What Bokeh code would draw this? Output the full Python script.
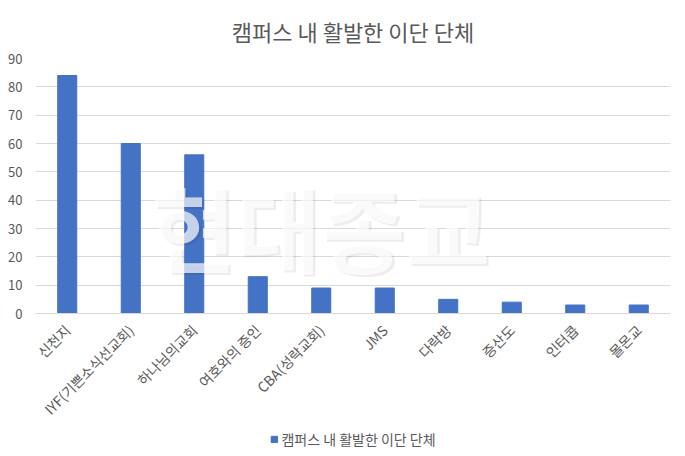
from bokeh.plotting import figure
from bokeh.models import FactorRange, Range1d, Legend, LegendItem, Label, ColumnDataSource, SingleIntervalTicker
from bokeh.layouts import column
from bokeh.embed import file_html
from bokeh.resources import INLINE
import math

title = "캠퍼스 내 활발한 이단 단체"
series_name = "캠퍼스 내 활발한 이단 단체"
categories = ["신천지", "IYF(기쁜소식선교회)", "하나님의교회", "여호와의 증인", "CBA(성락교회)",
              "JMS", "다락방", "증산도", "인터콥", "몰몬교"]
values = [84, 60, 56, 13, 9, 9, 5, 4, 3, 3]
watermark = "현대종교"

FONT = "Noto Sans CJK KR"
GREY = "#595959"
BLUE = "#4472C4"

src = ColumnDataSource(dict(cat=categories, val=values))

p = figure(frame_width=635, frame_height=255, x_range=FactorRange(*categories), y_range=Range1d(0, 90),
           output_backend="svg", toolbar_location=None,
           min_border_left=35, min_border_right=15, min_border_top=58, min_border_bottom=0)
p.outline_line_color = None

r = p.vbar(x="cat", top="val", width=0.3, source=src, fill_color=BLUE, line_color=BLUE)

p.title.text = title
p.title.align = "center"
p.title.text_font = FONT
p.title.text_font_size = "22px"
p.title.text_font_style = "normal"
p.title.text_color = GREY
p.title.standoff = 24

p.yaxis.ticker = SingleIntervalTicker(interval=10)
p.yaxis.axis_line_color = None
p.yaxis.major_tick_line_color = None
p.yaxis.minor_tick_line_color = None
p.yaxis.major_label_text_font = FONT
p.yaxis.major_label_text_font_size = "13px"
p.yaxis.major_label_text_color = GREY
p.yaxis.major_label_standoff = 7

p.xaxis.axis_line_color = "#d9d9d9"
p.xaxis.major_tick_line_color = None
p.xaxis.minor_tick_line_color = None
p.xaxis.major_label_orientation = math.pi / 4
p.xaxis.major_label_text_font = FONT
p.xaxis.major_label_text_font_size = "14px"
p.xaxis.major_label_text_color = GREY
p.xaxis.major_label_standoff = 8

p.xgrid.grid_line_color = None
p.ygrid.grid_line_color = "#d9d9d9"

# watermark
shadow = Label(x=4.53, y=30.3, text=watermark, text_align="center", text_baseline="middle",
               text_font=FONT, text_font_size="92px", text_font_style="bold",
               text_color="#000000", text_alpha=0.07)
wm = Label(x=4.49, y=31, text=watermark, text_align="center", text_baseline="middle",
           text_font=FONT, text_font_size="92px", text_font_style="bold",
           text_color="#ffffff", text_alpha=0.7)
p.add_layout(shadow)
p.add_layout(wm)

# legend strip below the chart
q = figure(width=685, height=22, x_range=Range1d(0, 1), y_range=Range1d(0, 1),
           output_backend="svg", toolbar_location=None,
           x_axis_location=None, y_axis_location=None, min_border=0)
q.outline_line_color = None
q.xgrid.grid_line_color = None
q.ygrid.grid_line_color = None
lr = q.vbar(x=[2], top=[0], width=0.3, fill_color=BLUE, line_color=BLUE)
legend = Legend(items=[LegendItem(label=series_name, renderers=[lr])], orientation="horizontal",
                location="center", border_line_color=None, background_fill_alpha=0,
                label_text_font=FONT, label_height=14, label_standoff=4,
                label_text_font_size="14px", label_text_color=GREY,
                glyph_width=8, glyph_height=8, margin=0, padding=1)
q.add_layout(legend, "center")

layout = column(p, q, spacing=0)
open("out.html", "w").write(file_html(layout, INLINE))
